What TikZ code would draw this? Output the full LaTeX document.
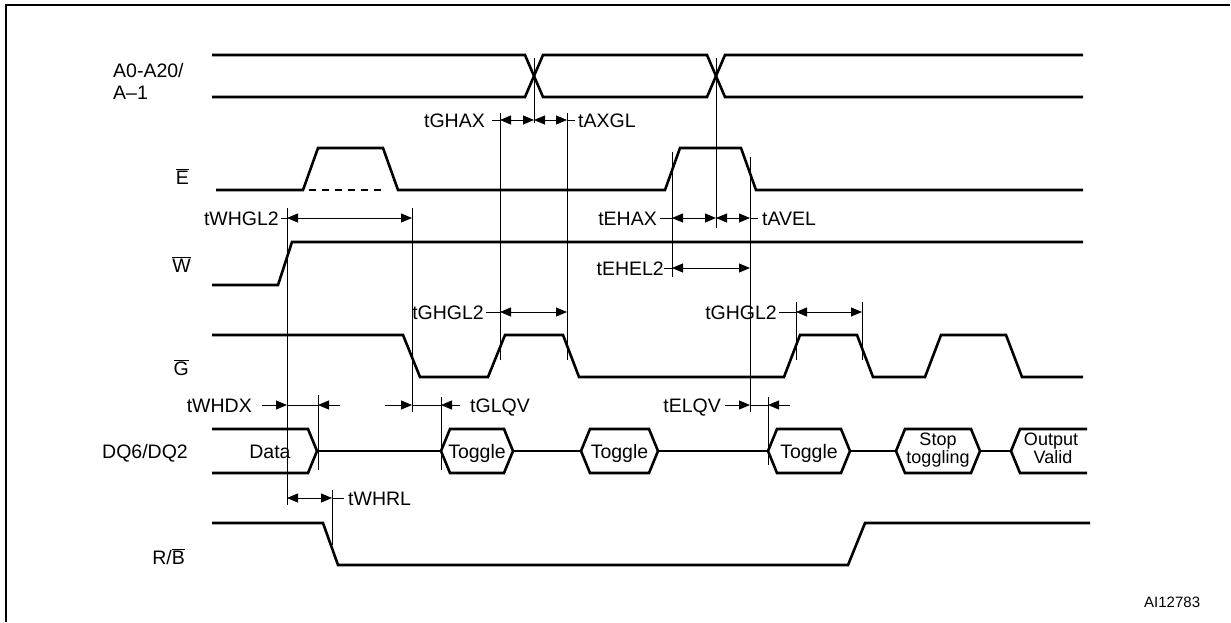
\documentclass[tikz,border=0pt]{standalone}
\usepackage{fontspec}
\setmainfont{Liberation Sans}
\usetikzlibrary{arrows.meta,calc}
\newcommand{\ovl}[1]{$\overline{\mbox{#1}}$}

\begin{document}
\begin{tikzpicture}[x=1pt,y=-1pt,
    sig/.style={line width=2.6pt},
    dim/.style={line width=0.9pt},
    dimarr/.style={dim,{Triangle[length=11pt,width=9pt]}-{Triangle[length=11pt,width=9pt]}},
    tip/.style={dim,-{Triangle[length=11pt,width=9pt]}},
    lbl/.style={font=\fontsize{19.5}{21}\selectfont,inner sep=0pt,text height=14pt,text depth=0pt},
    hexlbl/.style={lbl,anchor=base},
    hexlbltwo/.style={hexlbl,font=\fontsize{18}{19}\selectfont}]
    \useasboundingbox (0,0) rectangle (1231,622);
    % 外框
    \draw[line width=2.5pt] (6,622) -- (6,5) -- (1230,5);

    % 信号名
    \node[lbl,anchor=west] (nA) at (113,70) {A0-A20/};
    \node[lbl,anchor=west] (nA1) at (113,92) {A–1};
    \node[lbl,anchor=east] (nE) at (189,177) {\ovl{E}};
    \node[lbl,anchor=east] (nW) at (191,265) {\ovl{W}};
    \node[lbl,anchor=east] (nG) at (189,368) {\ovl{G}};
    \node[lbl,anchor=east] (nDQ) at (188,451) {DQ6/DQ2};
    \node[lbl,anchor=east] (nRB) at (185,557) {R/\ovl{B}};

    % 波形
    \draw[sig] (212,55) -- (525,55) -- (543,97) -- (707,97) -- (725,55) -- (1083,55);
    \draw[sig] (212,97) -- (525,97) -- (543,55) -- (707,55) -- (725,97) -- (1083,97);
    \draw[sig] (216,190) -- (303,190) -- (318,148) -- (383,148) -- (398,190) -- (665,190)
        -- (680,148) -- (741,148) -- (756,190) -- (1083,190);
    \draw[sig,dash pattern=on 7pt off 6pt] (309,190) -- (385,190);
    \draw[sig] (212,285) -- (278,285) -- (292,242) -- (1083,242);
    \draw[sig] (212,335) -- (403,335) -- (420,377) -- (488,377) -- (505,335) -- (563,335)
        -- (579,377) -- (784,377) -- (800,335) -- (857,335) -- (873,377) -- (925,377)
        -- (941,335) -- (1006,335) -- (1022,377) -- (1083,377);
    \draw[sig] (212,523) -- (323,523) -- (338,565) -- (848,565) -- (865,523) -- (1090,523);

    % 数据线 DQ6/DQ2
    \draw[sig] (212,429) -- (308,429) -- (317,451) -- (308,473) -- (212,473);
    \foreach \a/\b in {441/513, 581/658, 768/850, 896/980}
        \draw[sig] (\a,451) -- (\a+9,429) -- (\b-9,429) -- (\b,451) -- (\b-9,473) -- (\a+9,473) -- cycle;
    \foreach \a/\b in {317/441, 513/581, 658/768, 850/896, 980/1011}
        \draw[sig] (\a,451) -- (\b,451);
    \draw[sig] (1087,429) -- (1020,429) -- (1011,451) -- (1020,473) -- (1087,473);
    \node[hexlbl] (dData) at (270,458) {Data};
    \node[hexlbl] (dTg1) at (477,458) {Toggle};
    \node[hexlbl] (dTg2) at (619.5,458) {Toggle};
    \node[hexlbl] (dTg3) at (809,458) {Toggle};
    \node[hexlbltwo] (dStop) at (938,445) {Stop};
    \node[hexlbltwo] (dTgl) at (938,463) {toggling};
    \node[hexlbltwo] (dOut) at (1051,445) {Output};
    \node[hexlbltwo] (dVal) at (1053,463) {Valid};

    % 时刻标记
    \foreach \n/\x in {mWr/287, mDq/318, mRb/332, mGf1/412, mTg1/441, mGr1/500, mAx1/534,
                       mGf2/567, mEr/672, mAx2/716, mEf/750, mTg3/768, mGr3/796, mGf3/862}
        \coordinate (\n) at (\x,0);
    \foreach \m/\ya/\yb in {mAx1/58/123, mAx2/58/228, mGr1/113/360, mGf2/113/360,
                            mWr/208/505, mGf1/208/412, mEr/152/277, mEf/157/412,
                            mGr3/302/360, mGf3/302/360, mDq/395/470, mTg1/397/470,
                            mTg3/397/465, mRb/490/545}
        \draw[dim] ($(\m)+(0,\ya)$) -- ($(\m)+(0,\yb)$);

    % 时间参数
    \node[lbl,anchor=east] (lGHAX) at (485,120) {tGHAX};
    \node[lbl,anchor=west] (lAXGL) at (578,120) {tAXGL};
    \draw[dim] ([xshift=7pt]lGHAX.east) -- (mGr1 |- lGHAX);
    \draw[dimarr] (mGr1 |- lGHAX) -- (mAx1 |- lGHAX);
    \draw[dimarr] (mAx1 |- lGHAX) -- (mGf2 |- lGHAX);
    \draw[dim] (mGf2 |- lGHAX) -- ([xshift=-3pt]lAXGL.west);

    \node[lbl,anchor=east] (lWHGL) at (279,218) {tWHGL2};
    \draw[dim] ([xshift=2pt]lWHGL.east) -- (mWr |- lWHGL);
    \draw[dimarr] (mWr |- lWHGL) -- (mGf1 |- lWHGL);

    \node[lbl,anchor=east] (lEHAX) at (657,218) {tEHAX};
    \node[lbl,anchor=west] (lAVEL) at (762,218) {tAVEL};
    \draw[dim] ([xshift=3pt]lEHAX.east) -- (mEr |- lEHAX);
    \draw[dimarr] (mEr |- lEHAX) -- (mAx2 |- lEHAX);
    \draw[dimarr] (mAx2 |- lEHAX) -- (mEf |- lEHAX);
    \draw[dim] (mEf |- lEHAX) -- ([xshift=-4pt]lAVEL.west);

    \node[lbl,anchor=east] (lEHEL) at (664,268) {tEHEL2};
    \draw[dim] (lEHEL.east) -- (mEr |- lEHEL);
    \draw[dimarr] (mEr |- lEHEL) -- (mEf |- lEHEL);

    \node[lbl,anchor=east] (lGHGLa) at (484,312) {tGHGL2};
    \draw[dim] ([xshift=2pt]lGHGLa.east) -- (mGr1 |- lGHGLa);
    \draw[dimarr] (mGr1 |- lGHGLa) -- (mGf2 |- lGHGLa);
    \node[lbl,anchor=east] (lGHGLb) at (777,312) {tGHGL2};
    \draw[dim] ([xshift=2pt]lGHGLb.east) -- (mGr3 |- lGHGLb);
    \draw[dimarr] (mGr3 |- lGHGLb) -- (mGf3 |- lGHGLb);

    \node[lbl,anchor=east] (lWHDX) at (252,405) {tWHDX};
    \draw[tip] ([xshift=10pt]lWHDX.east) -- (mWr |- lWHDX);
    \draw[dim] (mWr |- lWHDX) -- (mDq |- lWHDX);
    \draw[tip] ($(mDq |- lWHDX)+(22,0)$) -- (mDq |- lWHDX);

    \node[lbl,anchor=west] (lGLQV) at (470,405) {tGLQV};
    \draw[tip] ($(mGf1 |- lGLQV)+(-27,0)$) -- (mGf1 |- lGLQV);
    \draw[dim] (mGf1 |- lGLQV) -- (mTg1 |- lGLQV);
    \draw[tip] ([xshift=-10pt]lGLQV.west) -- (mTg1 |- lGLQV);

    \node[lbl,anchor=east] (lELQV) at (721,405) {tELQV};
    \draw[tip] ([xshift=4pt]lELQV.east) -- (mEf |- lELQV);
    \draw[dim] (mEf |- lELQV) -- (mTg3 |- lELQV);
    \draw[tip] ($(mTg3 |- lELQV)+(22,0)$) -- (mTg3 |- lELQV);

    \node[lbl,anchor=west] (lWHRL) at (348,498) {tWHRL};
    \draw[dimarr] (mWr |- lWHRL) -- (mRb |- lWHRL);
    \draw[dim] (mRb |- lWHRL) -- ([xshift=-4pt]lWHRL.west);

    % 图号
    \node[anchor=base west,inner sep=0pt,font=\fontsize{15}{16}\selectfont] (fig) at (1144,607) {AI12783};
\end{tikzpicture}
\end{document}
